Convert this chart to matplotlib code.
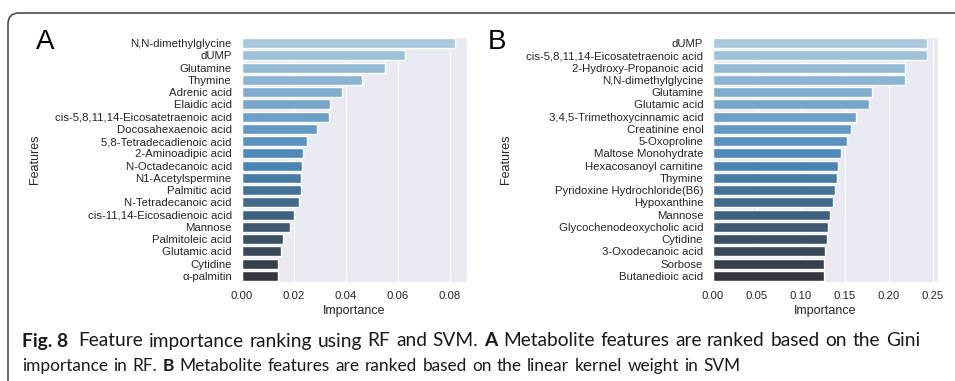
import matplotlib.pyplot as plt
import seaborn as sns
from matplotlib.patches import FancyBboxPatch

# RF (Gini importance)
rf_features = ["N,N-dimethylglycine", "dUMP", "Glutamine", "Thymine", "Adrenic acid",
               "Elaidic acid", "cis-5,8,11,14-Eicosatetraenoic acid", "Docosahexaenoic acid",
               "5,8-Tetradecadienoic acid", "2-Aminoadipic acid", "N-Octadecanoic acid",
               "N1-Acetylspermine", "Palmitic acid", "N-Tetradecanoic acid",
               "cis-11,14-Eicosadienoic acid", "Mannose", "Palmitoleic acid",
               "Glutamic acid", "Cytidine", "α-palmitin"]
rf_importance = [0.082, 0.0627, 0.055, 0.0463, 0.0385, 0.0342, 0.0336, 0.0291, 0.0251, 0.0236,
                 0.0231, 0.0230, 0.0227, 0.0220, 0.0201, 0.0188, 0.0158, 0.0150, 0.0141, 0.0141]

# SVM (linear kernel weight)
svm_features = ["dUMP", "cis-5,8,11,14-Eicosatetraenoic acid", "2-Hydroxy-Propanoic acid",
                "N,N-dimethylglycine", "Glutamine", "Glutamic acid",
                "3,4,5-Trimethoxycinnamic acid", "Creatinine enol", "5-Oxoproline",
                "Maltose Monohydrate", "Hexacosanoyl carnitine", "Thymine",
                "Pyridoxine Hydrochloride(B6)", "Hypoxanthine", "Mannose",
                "Glycochenodeoxycholic acid", "Cytidine", "3-Oxodecanoic acid", "Sorbose",
                "Butanedioic acid"]
svm_importance = [0.244, 0.243, 0.219, 0.218, 0.181, 0.177, 0.1625, 0.1565, 0.153, 0.146,
                  0.1425, 0.141, 0.139, 0.1367, 0.1333, 0.1307, 0.1295, 0.1276, 0.126, 0.1258]

caption1 = [("Fig. 8", True), ("Feature", False), ("importance", False), ("ranking", False),
            ("using", False), ("RF", False), ("and", False), ("SVM.", False), ("A", True),
            ("Metabolite", False), ("features", False), ("are", False), ("ranked", False),
            ("based", False), ("on", False), ("the", False), ("Gini", False)]
caption2 = [("importance", False), ("in", False), ("RF.", False), ("B", True),
            ("Metabolite", False), ("features", False), ("are", False), ("ranked", False),
            ("based", False), ("on", False), ("the", False), ("linear", False),
            ("kernel", False), ("weight", False), ("in", False), ("SVM", False)]

sns.set_style("darkgrid")
plt.rcParams['font.family'] = ['Liberation Sans', 'DejaVu Sans']
SANS = ['Liberation Sans', 'DejaVu Sans']
TXT = "#262626"

W, H = 955, 381
fig = plt.figure(figsize=(W / 100, H / 100), dpi=100)

# journal figure box (rounded top-left corner, runs off right/bottom)
frame = FancyBboxPatch((0.08, -1.0), 12.0, 3.81 - 0.13 + 1.0,
                       boxstyle="round,pad=0,rounding_size=0.11",
                       transform=fig.dpi_scale_trans, facecolor="none",
                       edgecolor="#4d4d4d", linewidth=1.2, clip_on=False)
fig.patches.append(frame)


def panel(left, feats, vals, xmax, ticks, letter, letter_x):
    ax = fig.add_axes([left / W, 1 - 282 / H, 225 / W, 245 / H])
    pal = sns.blend_palette(["#a7c8dd", "#4a88b8", "#34383e"], len(vals))
    ax.barh(range(len(vals)), vals, height=0.8, color=pal, edgecolor="white", linewidth=1)
    ax.set_ylim(len(vals) - 0.5, -0.5)
    ax.set_yticks(range(len(vals)))
    ax.set_yticklabels(feats, family=SANS)
    ax.set_xlim(0, xmax)
    ax.set_xticks(ticks)
    ax.set_xticklabels(["%.2f" % t for t in ticks], family=SANS)
    ax.grid(False, axis="y")
    ax.tick_params(axis="both", labelsize=8.2, length=0, colors=TXT)
    ax.tick_params(axis="y", pad=7)
    ax.tick_params(axis="x", pad=6.5)
    ax.set_xlabel("Importance", fontsize=9, color=TXT, family=SANS)
    ax.set_ylabel("Features", fontsize=9, color=TXT, family=SANS)
    ax.xaxis.set_label_coords(0.5, -0.095)
    ax.yaxis.set_label_coords(-0.893, 0.5)
    fig.text(letter_x / W, 1 - 42 / H, letter, fontsize=20, ha="center", va="center",
             color="black", family=SANS)
    return ax


panel(241.5, rf_features, rf_importance, 0.0865, [0, 0.02, 0.04, 0.06, 0.08], "A", 45)
panel(713, svm_features, svm_importance, 0.256, [0, 0.05, 0.10, 0.15, 0.20, 0.25], "B", 497)

# caption: first line justified, second line ragged
renderer = fig.canvas.get_renderer()


def caption_line(words, y, x0, size, x1=None, first_gap=None, word_gap=None, space_add=0):
    items = []
    for w, bold in words:
        t = fig.text(0, 1 - y / H, w, family="Lato", fontsize=size, va="center",
                     fontweight="bold" if bold else "normal", color="#1a1a1a")
        items.append(t)
    widths = [t.get_window_extent(renderer).width for t in items]
    if x1 is not None and word_gap is not None:
        # grow the type so that justified spaces come out near word_gap
        target = x1 - x0 - first_gap - word_gap * (len(items) - 2)
        size = size * target / sum(widths)
        for t in items:
            t.set_fontsize(size)
        widths = [t.get_window_extent(renderer).width for t in items]
    probe = fig.text(0, 0, "x x", family="Lato", fontsize=size)
    probe2 = fig.text(0, 0, "xx", family="Lato", fontsize=size)
    space = probe.get_window_extent(renderer).width - probe2.get_window_extent(renderer).width
    probe.remove()
    probe2.remove()
    gaps = [space + space_add] * (len(items) - 1)
    if first_gap is not None:
        gaps[0] = first_gap
    if x1 is not None:
        rest = (x1 - x0 - sum(widths) - gaps[0]) / (len(items) - 2)
        gaps = [gaps[0]] + [rest] * (len(items) - 2)
    x = x0
    for i, t in enumerate(items):
        t.set_x(x / W)
        if i < len(gaps):
            x += widths[i] + gaps[i]


caption_line(caption1, 341, 22, 12.6, x1=920, first_gap=10, word_gap=5.5)
caption_line(caption2, 366, 22, 12.4, space_add=1)

fig.savefig("out.png", dpi=100, facecolor="white")
